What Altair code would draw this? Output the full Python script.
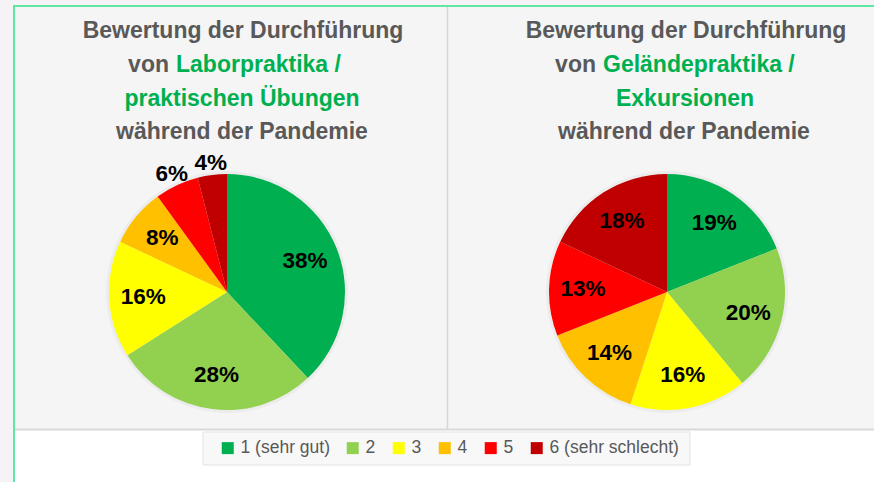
import altair as alt
import pandas as pd

# ---------------- data ----------------
categories = ["1 (sehr gut)", "2", "3", "4", "5", "6 (sehr schlecht)"]
colors = ["#00b050", "#92d050", "#ffff00", "#ffc000", "#ff0000", "#c00000"]
labor_values = [38, 28, 16, 8, 6, 4]
gelaende_values = [19, 20, 16, 14, 13, 18]

title_head = "Bewertung der Durchführung"
title_von = "von"
title_left_green1 = "Laborpraktika /"
title_left_green2 = "praktischen Übungen"
title_right_green1 = "Geländepraktika /"
title_right_green2 = "Exkursionen"
title_tail = "während der Pandemie"

GRAY = "#595959"
GREEN = "#00b050"
FONT = "Liberation Sans"


def one_row():
    return alt.Data(values=[{"k": 0}])


def rect(x, x2, y, y2, **kw):
    return alt.Chart(one_row()).mark_rect(**kw).encode(
        x=alt.value(x), x2=alt.value(x2), y=alt.value(y), y2=alt.value(y2))


def rule(x, x2, y, y2, **kw):
    return alt.Chart(one_row()).mark_rule(**kw).encode(
        x=alt.value(x), x2=alt.value(x2), y=alt.value(y), y2=alt.value(y2))


def txt(s, x, y, color, align="center", size=23):
    return alt.Chart(alt.Data(values=[{"t": s}])).mark_text(
        font=FONT, fontSize=size, fontWeight="bold", color=color,
        align=align, baseline="alphabetic").encode(
        text="t:N", x=alt.value(x), y=alt.value(y))


legend = alt.Legend(
    orient="none", legendX=219, legendY=439, direction="horizontal",
    title=None, symbolType="square", symbolSize=144, symbolStrokeWidth=0,
    symbolOpacity=1, labelFontSize=17.5, labelColor=GRAY, labelFont=FONT,
    columnPadding=14, labelOffset=4, padding=0, offset=0, labelLimit=300)

color_scale = alt.Scale(domain=categories, range=colors)


def pie(values, cx, cy):
    df = pd.DataFrame({"cat": categories, "value": values})
    base = alt.Chart(df).encode(
        theta=alt.Theta("value:Q", stack=True),
        order=alt.Order("cat:N"),
        x=alt.value(cx), y=alt.value(cy))
    shadow = base.mark_arc(outerRadius=121, color="#000000", opacity=0.035)
    arcs = base.mark_arc(outerRadius=118, strokeWidth=0).encode(
        color=alt.Color("cat:N", scale=color_scale, legend=legend))
    inner = base.transform_calculate(
        label="datum.value < 7 ? '' : datum.value + '%'",
    ).mark_text(font=FONT, fontSize=22.5, fontWeight="bold", color="#000000",
                baseline="middle", radius=84).encode(text="label:N")
    outer = base.transform_calculate(
        label="datum.value < 7 ? datum.value + '%' : ''",
    ).mark_text(font=FONT, fontSize=22.5, fontWeight="bold", color="#000000",
                baseline="middle", radius=130).encode(text="label:N")
    return [shadow, arcs, inner, outer]


layers = [
    rect(14, 900, 6, 500, fill="#ffffff", stroke="#5ee8a4", strokeWidth=2),
    rect(15, 900, 7, 429, fill="#f5f5f5"),
    rule(15, 900, 429.5, 429.5, color="#d9d9d9", strokeWidth=2),
    rule(447.5, 447.5, 7, 429, color="#d6d6d6", strokeWidth=1.5),
    rect(203, 690, 432, 465, fill="#f8f8f8", stroke="#e3e3e3", strokeWidth=1),
    # left title
    txt(title_head, 243, 38, GRAY),
    txt(title_von, 169, 72, GRAY, align="right"),
    txt(title_left_green1, 176, 72, GREEN, align="left"),
    txt(title_left_green2, 242, 106, GREEN),
    txt(title_tail, 242, 139, GRAY),
    # right title
    txt(title_head, 686, 38, GRAY),
    txt(title_von, 596, 72, GRAY, align="right"),
    txt(title_right_green1, 603, 72, GREEN, align="left"),
    txt(title_right_green2, 685, 106, GREEN),
    txt(title_tail, 684, 139, GRAY),
]
layers += pie(labor_values, 227, 292)
layers += pie(gelaende_values, 667, 292)

chart = alt.layer(*layers).properties(
    width=874, height=482, padding=0, autosize="none",
    background="#f5f3f5",
).configure_view(stroke=None)

chart.save("out.html", embed_options={"renderer": "svg", "actions": False})
